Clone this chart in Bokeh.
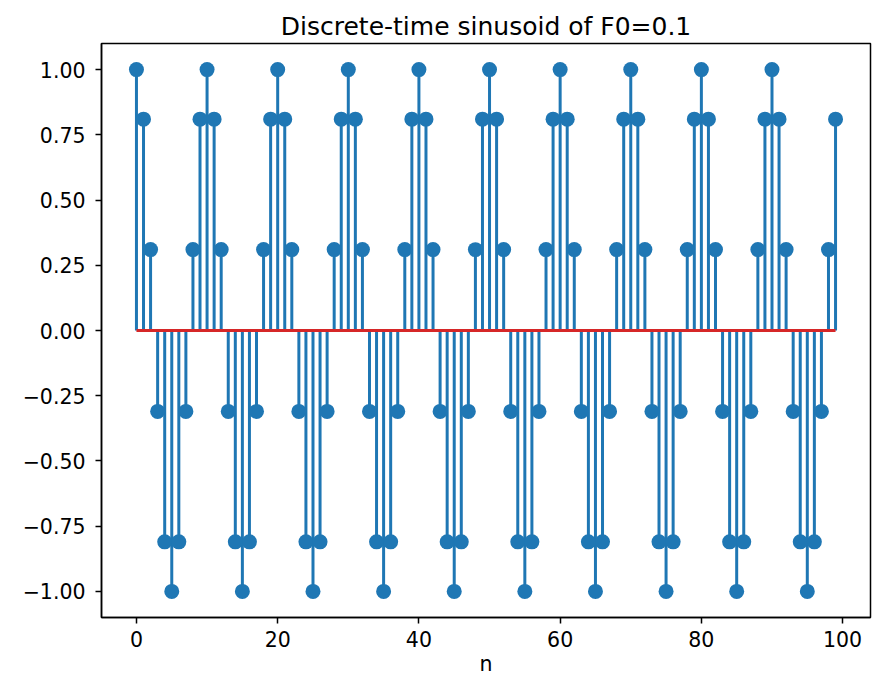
from bokeh.plotting import figure
from bokeh.models import FixedTicker, Range1d
from bokeh.embed import file_html
from bokeh.resources import INLINE

# Sample index and values of the discrete-time sinusoid (F0 = 0.1, period 10)
n = list(range(100))
x_values = [
    1.00, 0.81, 0.31, -0.31, -0.81, -1.00, -0.81, -0.31, 0.31, 0.81,
    1.00, 0.81, 0.31, -0.31, -0.81, -1.00, -0.81, -0.31, 0.31, 0.81,
    1.00, 0.81, 0.31, -0.31, -0.81, -1.00, -0.81, -0.31, 0.31, 0.81,
    1.00, 0.81, 0.31, -0.31, -0.81, -1.00, -0.81, -0.31, 0.31, 0.81,
    1.00, 0.81, 0.31, -0.31, -0.81, -1.00, -0.81, -0.31, 0.31, 0.81,
    1.00, 0.81, 0.31, -0.31, -0.81, -1.00, -0.81, -0.31, 0.31, 0.81,
    1.00, 0.81, 0.31, -0.31, -0.81, -1.00, -0.81, -0.31, 0.31, 0.81,
    1.00, 0.81, 0.31, -0.31, -0.81, -1.00, -0.81, -0.31, 0.31, 0.81,
    1.00, 0.81, 0.31, -0.31, -0.81, -1.00, -0.81, -0.31, 0.31, 0.81,
    1.00, 0.81, 0.31, -0.31, -0.81, -1.00, -0.81, -0.31, 0.31, 0.81,
]
baseline = [0.0] * len(n)

x_ticks = [0, 20, 40, 60, 80, 100]
y_ticks = [-1.0, -0.75, -0.5, -0.25, 0.0, 0.25, 0.5, 0.75, 1.0]
y_tick_labels = ["\u22121.00", "\u22120.75", "\u22120.50", "\u22120.25",
                 "0.00", "0.25", "0.50", "0.75", "1.00"]

FONT = "DejaVu Sans"
BLUE = "#1f77b4"
RED = "#d62728"

p = figure(
    title="Discrete-time sinusoid of F0=0.1",
    frame_width=769, frame_height=574,
    min_border_left=101, min_border_right=6,
    min_border_top=43, min_border_bottom=63,
    x_range=Range1d(-4.95, 103.95), y_range=Range1d(-1.1, 1.1),
    output_backend="svg", toolbar_location=None,
)

# stems, markers, then the zero baseline on top
p.segment(x0=n, y0=baseline, x1=n, y1=x_values, line_color=BLUE, line_width=3)
p.scatter(x=n, y=x_values, size=15, fill_color=BLUE, line_color=None)
p.line(x=[n[0], n[-1]], y=[0, 0], line_color=RED, line_width=3.2)

# styling
p.title.align = "center"
p.title.text_font = FONT
p.title.text_font_size = "25px"
p.title.text_font_style = "normal"
p.title.text_color = "black"
p.title.standoff = 6

p.grid.visible = False
p.outline_line_color = "black"
p.outline_line_width = 1.5
p.outline_line_alpha = 1.0

for ax in (p.xaxis[0], p.yaxis[0]):
    ax.major_label_text_font = FONT
    ax.major_label_text_font_size = "20.5px"
    ax.major_label_text_color = "black"
    ax.major_tick_out = 6
    ax.major_tick_in = 0
    ax.minor_tick_out = 0
    ax.minor_tick_in = 0
    ax.major_tick_line_color = "black"
    ax.major_tick_line_width = 1.5
    ax.axis_line_color = "black"
    ax.axis_line_width = 1.5

p.yaxis.major_label_standoff = 10
p.xaxis.major_label_standoff = 7

p.xaxis.ticker = FixedTicker(ticks=x_ticks)
p.yaxis.ticker = FixedTicker(ticks=y_ticks)
p.yaxis.major_label_overrides = {t: lab for t, lab in zip(y_ticks, y_tick_labels)}

p.xaxis.axis_label = "n"
p.xaxis.axis_label_text_font = FONT
p.xaxis.axis_label_text_font_size = "20.5px"
p.xaxis.axis_label_text_font_style = "normal"
p.xaxis.axis_label_text_color = "black"
p.xaxis.axis_label_standoff = 2

open("out.html", "w").write(file_html(p, INLINE))
